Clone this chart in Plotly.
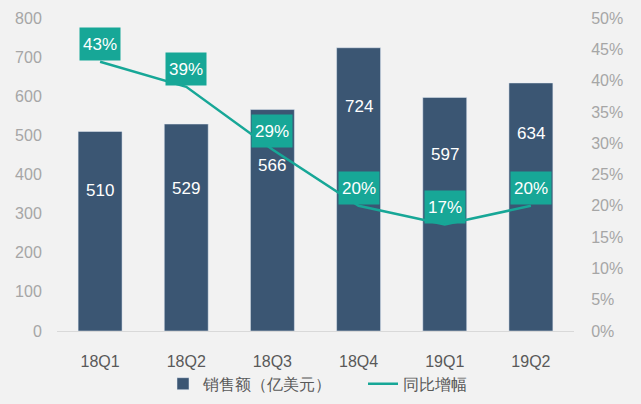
import plotly.graph_objects as go

categories = ["18Q1", "18Q2", "18Q3", "18Q4", "19Q1", "19Q2"]
sales = [510, 529, 566, 724, 597, 634]
growth = [0.43, 0.39, 0.29, 0.20, 0.17, 0.20]
growth_labels = ["43%", "39%", "29%", "20%", "17%", "20%"]
sales_label_pos = [360, 365, 424, 575, 450, 506]

BAR = "#3b5673"
TEAL = "#17a797"
FONT = "Liberation Sans, Arial, sans-serif"

fig = go.Figure()
fig.add_trace(go.Bar(x=categories, y=sales, name="销售额（亿美元）",
                     marker=dict(color=BAR), width=0.51))
fig.add_trace(go.Scatter(x=categories, y=growth, name="同比增幅", yaxis="y2",
                         mode="lines", line=dict(color=TEAL, width=2.5)))

ann = []
for c, v, p in zip(categories, sales, sales_label_pos):
    ann.append(dict(x=c, y=p, xref="x", yref="y", text=str(v), showarrow=False,
                    font=dict(color="white", size=17, family=FONT)))
for c, g, t in zip(categories, growth, growth_labels):
    ann.append(dict(x=c, y=g, xref="x", yref="y2", text=t, showarrow=False,
                    yshift=18, bgcolor=TEAL, width=38, height=30,
                    font=dict(color="white", size=17, family=FONT)))

fig.update_layout(
    width=641, height=404,
    paper_bgcolor="#f2f2f2", plot_bgcolor="#f2f2f2",
    margin=dict(l=57, r=67, t=18, b=73, autoexpand=False),
    font=dict(family=FONT),
    xaxis=dict(showgrid=False, showline=True, linecolor="#d9d9d9", linewidth=1,
               tickfont=dict(color="#595959", size=16), ticks="", ticklabelstandoff=16),
    yaxis=dict(range=[0, 800], dtick=100, showgrid=False, zeroline=False,
               tickfont=dict(color="#a6a6a6", size=16), ticks="outside",
               ticklen=11, tickcolor="rgba(0,0,0,0)"),
    yaxis2=dict(range=[0, 0.5], dtick=0.05, tickformat=".0%", overlaying="y",
                side="right", showgrid=False, zeroline=False,
                tickfont=dict(color="#a6a6a6", size=16), ticks="outside",
                ticklen=13, tickcolor="rgba(0,0,0,0)"),
    legend=dict(orientation="h", x=163 / 641, xanchor="left", xref="container",
                y=0.05, yanchor="middle", yref="container",
                entrywidth=155, entrywidthmode="pixels",
                font=dict(color="#595959", size=16), bgcolor="rgba(0,0,0,0)"),
    annotations=ann,
    showlegend=True,
)

fig.write_html("out.html", config={"displayModeBar": False},
               post_script="document.body.style.margin='0';document.body.style.background='#f2f2f2';")
